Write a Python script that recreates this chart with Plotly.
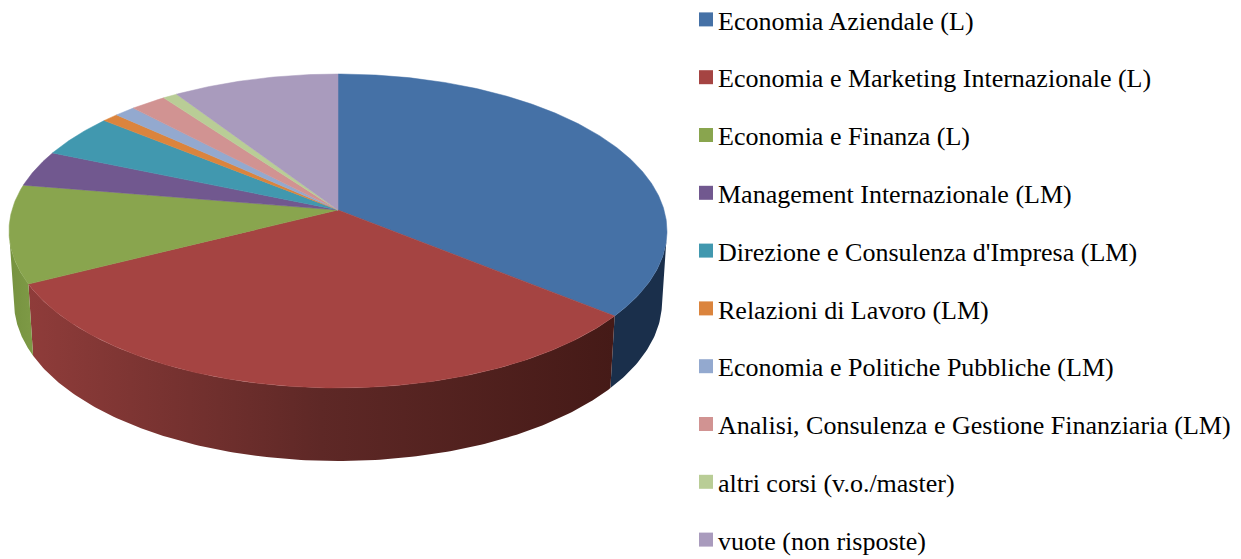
import numpy as np
import plotly.graph_objects as go

# ---- data -------------------------------------------------------------
categories = [
    "Economia Aziendale (L)",
    "Economia e Marketing Internazionale (L)",
    "Economia e Finanza (L)",
    "Management Internazionale (LM)",
    "Direzione e Consulenza d'Impresa (LM)",
    "Relazioni di Lavoro (LM)",
    "Economia e Politiche Pubbliche (LM)",
    "Analisi, Consulenza e Gestione Finanziaria (LM)",
    "altri corsi (v.o./master)",
    "vuote (non risposte)",
]
values = [35.84, 31.70, 10.09, 3.73, 4.46, 0.91, 1.17, 2.01, 0.81, 9.28]
colors = ["#4571A6", "#A54442", "#89A54E", "#71588F", "#4198AF",
          "#DB843D", "#93A9CF", "#D19392", "#B9CD96", "#A99BBD"]
wall_scales = {
    0: [[0, "#1A2F4B"], [1, "#1A2F4B"]],
    1: [[0, "#8F3C3A"], [0.5, "#5E2826"], [1, "#451A17"]],
    2: [[0, "#76923F"], [1, "#7E9A46"]],
}

# ---- perspective of the pie ---------------------------------------------
W, H = 1241, 559
APEX = (338, 210)
TOP = dict(cx=338, cy=231, rx=329, ry=157)
BOT = dict(cx=338, cy=302, rx=324, ry=159)
K = 1.1443  # foreshortening between true angle and projected angle


def projected(theta_deg):
    """true pie angle (clockwise from 12 o'clock) -> angle on the ellipse"""
    t = np.radians(np.asarray(theta_deg, dtype=float))
    return np.mod(2 * np.arctan2(np.sin(t / 2), K * np.cos(t / 2)), 2 * np.pi)


def on_ellipse(e, phi):
    return e["cx"] + e["rx"] * np.sin(phi), e["cy"] - e["ry"] * np.cos(phi)


edges = np.concatenate([[0], np.cumsum(values)]) / sum(values) * 360

fig = go.Figure()

# side walls: only the front half of the rim (3 to 9 o'clock) is visible
for i, scale in wall_scales.items():
    ph = projected(np.linspace(edges[i], edges[i + 1], 160))
    ph = np.clip(ph, np.pi / 2, 3 * np.pi / 2)
    xt, yt = on_ellipse(TOP, ph)
    xb, yb = on_ellipse(BOT, ph)
    xs = np.concatenate([xt, xb[::-1], xt[:1]])
    ys = np.concatenate([yt, yb[::-1], yt[:1]])
    fig.add_trace(go.Scatter(
        x=xs, y=ys, mode="lines", line=dict(width=0), fill="toself",
        fillgradient=dict(type="horizontal", start=float(xs.min()), stop=float(xs.max()),
                          colorscale=scale),
        showlegend=False, hoverinfo="skip"))

# top face
for i, (name, col) in enumerate(zip(categories, colors)):
    th = np.linspace(edges[i], edges[i + 1], max(int(edges[i + 1] - edges[i]) * 2, 6))
    x, y = on_ellipse(TOP, projected(th))
    fig.add_trace(go.Scatter(
        x=np.concatenate([[APEX[0]], x, [APEX[0]]]),
        y=np.concatenate([[APEX[1]], y, [APEX[1]]]),
        mode="lines", line=dict(width=0.5, color=col), fill="toself", fillcolor=col,
        name=name, text=f"{name}: {values[i]}%", hoverinfo="text", showlegend=False))

# legend keys
for i, (name, col) in enumerate(zip(categories, colors)):
    fig.add_trace(go.Scatter(
        x=[None], y=[None], mode="markers", name=name, legendgroup=str(i),
        marker=dict(symbol="square", size=14, color=col)))

fig.update_layout(
    width=W, height=H, margin=dict(l=0, r=0, t=0, b=0, autoexpand=False),
    paper_bgcolor="white", plot_bgcolor="white",
    xaxis=dict(range=[0, W], visible=False, fixedrange=True),
    yaxis=dict(range=[H, 0], visible=False, fixedrange=True),
    font=dict(family="Liberation Serif", color="black"),
    legend=dict(x=678 / W, y=0.5, xanchor="left", yanchor="middle", tracegroupgap=21,
                maxheight=700,
                font=dict(size=26, family="Liberation Serif", color="black"),
                bgcolor="rgba(0,0,0,0)", borderwidth=0),
)
fig.write_html("out.html", config=dict(displayModeBar=False),
               post_script="""document.body.style.margin='0';
document.querySelectorAll('.legendsymbols').forEach(function(g){g.setAttribute('transform','translate(8,0)');});""")
